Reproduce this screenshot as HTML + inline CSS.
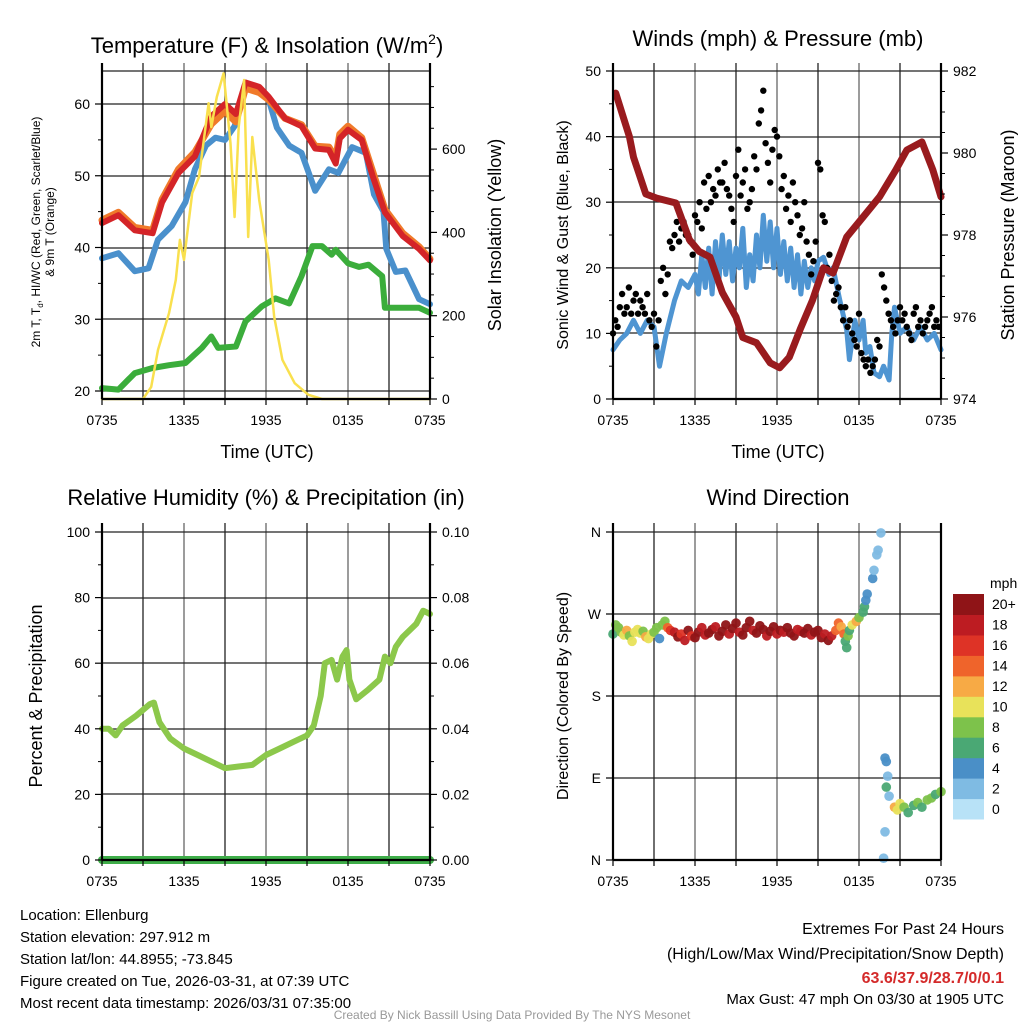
<!DOCTYPE html>
<html><head><meta charset="utf-8">
<style>
html,body{margin:0;padding:0;background:#fff;}
svg{display:block;font-family:"Liberation Sans",Arial,sans-serif;}
</style></head>
<body>
<svg id="chart" width="1024" height="1024" viewBox="0 0 1024 1024" xmlns="http://www.w3.org/2000/svg">
<rect width="1024" height="1024" fill="#fff"/>
<g id="grids"></g>
<g id="marks"></g>
<g id="axes"></g>
<text x="267" y="53" font-size="22" text-anchor="middle">Temperature (F) &amp; Insolation (W/m<tspan font-size="14" dy="-9">2</tspan><tspan dy="9">)</tspan></text>
<text x="778" y="46" font-size="22" text-anchor="middle">Winds (mph) &amp; Pressure (mb)</text>
<text x="266" y="505" font-size="22" text-anchor="middle">Relative Humidity (%) &amp; Precipitation (in)</text>
<text x="778" y="505" font-size="22" text-anchor="middle">Wind Direction</text>
<text x="267" y="458" font-size="18" text-anchor="middle">Time (UTC)</text>
<text x="778" y="458" font-size="18" text-anchor="middle">Time (UTC)</text>
<g font-size="12" text-anchor="middle">
<text transform="translate(40,232) rotate(-90)">2m T, T<tspan font-size="8" dy="3">d</tspan><tspan dy="-3">, HI/WC (Red, Green, Scarlet/Blue)</tspan></text>
<text transform="translate(54,232) rotate(-90)">&amp; 9m T (Orange)</text>
</g>
<text transform="translate(501,235) rotate(-90)" font-size="18" text-anchor="middle">Solar Insolation (Yellow)</text>
<text transform="translate(568,235) rotate(-90)" font-size="16" text-anchor="middle">Sonic Wind &amp; Gust (Blue, Black)</text>
<text transform="translate(1014,235) rotate(-90)" font-size="18" text-anchor="middle">Station Pressure (Maroon)</text>
<text transform="translate(42,696) rotate(-90)" font-size="18" text-anchor="middle">Percent &amp; Precipitation</text>
<text transform="translate(568,696) rotate(-90)" font-size="16" text-anchor="middle">Direction (Colored By Speed)</text>
<g id="colorbar"></g>
<text x="990" y="588" font-size="14">mph</text>
<g font-size="15">
<text x="20" y="920">Location: Ellenburg</text>
<text x="20" y="942">Station elevation: 297.912 m</text>
<text x="20" y="964">Station lat/lon: 44.8955; -73.845</text>
<text x="20" y="986">Figure created on Tue, 2026-03-31, at 07:39 UTC</text>
<text x="20" y="1008">Most recent data timestamp: 2026/03/31 07:35:00</text>
</g>
<g font-size="16" text-anchor="end">
<text x="1004" y="934">Extremes For Past 24 Hours</text>
<text x="1004" y="959">(High/Low/Max Wind/Precipitation/Snow Depth)</text>
<text x="1004" y="983" fill="#d42a2a" font-weight="bold">63.6/37.9/28.7/0/0.1</text>
<text x="1004" y="1004" font-size="15">Max Gust: 47 mph On 03/30 at 1905 UTC</text>
</g>
<text x="512" y="1019" font-size="12" fill="#999" text-anchor="middle">Created By Nick Bassill Using Data Provided By The NYS Mesonet</text>
</svg>
<script>
// ---------- DATA ----------
const timeLabels = ["0735","1335","1935","0135","0735"];
const tTemp = [0,1.2,2.4,3.7,4.4,5.6,6.8,8.0,9.0,9.8,10.5,11.5,12.2,13.4,14.6,15.6,16.6,17.1,17.4,18.0,19.0,19.8,20.7,22.0,23.2,24.0];
const tempRed = [43.4,44.5,42.4,42.0,46.3,50.4,52.7,58.3,60.0,58.6,63.0,62.4,61.0,58.0,56.9,53.8,53.6,51.7,55.2,56.4,55.0,50.0,44.9,41.6,39.8,38.2];
const temp9m = [43.8,44.9,42.8,42.4,46.7,50.9,53.3,57.2,59.0,57.5,62.2,61.6,60.6,58.0,57.1,54.1,54.0,52.4,55.8,56.9,55.3,50.6,45.3,42.0,40.1,38.4];
const tDew = [0,1.2,2.4,3.4,4.1,5.1,6.1,6.8,7.6,8.3,9.0,9.7,10.5,11.5,12.2,12.8,13.7,14.6,15.6,16.6,17.3,18.3,19.3,19.9,20.6,20.8,21.5,22.2,23.2,24.0];
const dewBlue = [38.5,39.2,36.7,37.1,41.1,43.0,46.3,50.9,54.2,55.3,55.0,56.9,62.2,61.6,60.6,56.7,54.2,53.2,47.9,50.9,50.4,54.0,53.2,47.4,45.0,39.8,36.6,36.8,32.8,32.1];
const tGreen = [0,1.2,2.4,3.7,4.9,6.1,7.3,8.0,8.5,9.8,10.5,11.7,12.7,13.7,14.6,15.4,16.1,16.8,17.1,18.0,18.8,19.5,20.5,20.7,22.0,23.2,24.0];
const dewGreen = [20.4,20.2,22.5,23.2,23.6,23.9,26.0,27.6,26.0,26.2,29.7,31.8,32.9,32.2,36.0,40.2,40.2,39.0,39.7,37.8,37.3,37.6,36.0,31.6,31.6,31.6,30.9];
const tSolar = [0,3.0,3.6,4.1,4.9,5.4,5.7,6.0,6.6,7.1,7.8,8.0,8.4,8.9,9.4,9.7,10.0,10.4,10.7,11.0,11.5,12.2,12.6,13.2,14.1,15.1,16.1,24.0];
const solar = [0,0,29,118,206,286,382,334,494,533,710,653,725,782,614,437,653,766,389,629,478,334,197,94,38,10,0,0];
const tWind = [0,0.5,1,1.5,2,2.5,3,3.4,3.9,4.5,5,5.5,
 6,6.25,6.5,6.75,7,7.25,7.5,7.75,8,8.25,8.5,8.75,9,9.25,9.5,9.75,10,10.25,10.5,10.75,11,11.25,11.5,11.75,12,12.25,12.5,12.75,13,13.25,13.5,13.75,14,14.25,14.5,14.75,15,
 15.4,15.8,16.1,16.6,17.1,17.3,17.7,18,18.3,18.5,18.8,19.1,19.5,19.8,20.2,20.4,20.6,21,21.5,22,22.5,23,23.5,24];
const windSpd = [7.5,9,10,12,10,12,11,5,10,15,18,17,
 19,16,22,17,23,16,24,18,25,19,24,18,23,20,26,17,22,18,25,20,28,21,27,20,26,19,24,18,23,17,22,16,21,17,20,18,21,
 21.6,19,20,15,10.5,6,12,9,12,7,8,4,3.4,5,2.9,10,14,10,11,9,11,9,10,7.5];
const tPres = [0.2,1.2,1.5,2.4,3.2,4.6,5.6,6.3,7.1,8.0,9.0,9.5,10.5,11.5,12.2,12.9,13.7,14.6,15.4,16.1,17.1,18.3,19.5,20.7,21.5,22.6,23.4,24.0];
const pressure = [981.46,980.4,979.9,979.0,978.9,978.78,977.88,977.6,977.46,976.6,976.0,975.5,975.37,974.88,974.76,975.02,975.7,976.41,977.2,977.07,977.95,978.44,978.93,979.59,980.07,980.27,979.59,978.93];
const gustStep = 1/6;
const gusts = [10,12,11,14,16,13, 14,17,13,15,16,13, 15,14,13,16,12,11, 13,8,12,18,20,16,
 19,24,23,25,27,24, 26,27,25,25,24,22, 28,27,30,26,33,29, 34,30,32,31,35,33,
 33,36,32,31,29,27, 34,38,31,33,35,29, 30,32,37,35,42,44, 47,39,36,33,38,41,
 40,37,32,34,29,31, 27,33,30,28,25,26, 30,24,22,19,21,24, 36,35,28,27,20,22,
 18,15,16,17,14,12, 14,11,12,10,9,8, 13,7,6,5,6,4, 5,6,9,8,19,17,
 15,13,12,11,10,12, 14,12,13,11,10,9, 13,14,11,12,10,11, 12,13,14,11,12,11];
const tRH = [0,0.5,1,1.5,2.5,3.5,3.8,4.2,5,6,7,8,9,10,11,12,13,14,15,15.5,16,16.3,16.8,17.2,17.6,17.9,18.1,18.6,19.5,20.3,20.7,21.1,21.5,22,23,23.5,24];
const rh = [40,40,38,41,44,47.5,48,42,37,34,32,30,28,28.5,29,32,34,36,38,41,50,60,61,55,62,64,55,49,52,55,62,60,65,68,72,76,75];
const tPrecip = [0,24];
const precip = [0,0];
const tDir = [0,0.2,0.4,0.6,0.8,1.0,1.2,1.4,1.6,1.8,2.0,2.2,2.4,2.6,2.8,3.0,3.2,3.4,3.6,3.8,4.0,4.2,
 4.5,4.75,5,5.25,5.5,5.75,6,6.25,6.5,6.75,7,7.25,7.5,7.75,8,8.25,8.5,8.75,9,9.25,9.5,9.75,10,10.25,10.5,10.75,11,11.25,11.5,11.75,12,12.25,12.5,12.75,13,13.25,13.5,13.75,14,14.25,14.5,14.75,15,15.25,15.5,15.75,16.0,
 16.3,16.5,16.7,16.9,17.0,17.1,17.2,17.3,17.5,17.8,18.0,18.3,18.4,18.5,18.6,19.0,19.1,19.3,19.4,19.6,
 19.9,20.0,20.1,20.0,20.2,19.9,19.8,20.6,20.8,21.0,21.3,21.6,22.0,22.3,22.6,23.0,23.3,23.6,24.0];
const dirDeg = [248,258,255,250,247,252,246,240,250,253,249,251,245,243,248,250,255,243,258,262,255,252,
 250,245,248,241,252,246,244,250,255,247,249,253,256,246,251,258,248,254,260,250,247,255,262,252,249,257,253,246,251,256,248,252,250,255,249,246,253,251,249,254,247,250,252,244,248,241,246,
 252,260,256,248,240,233,246,252,258,262,266,272,278,285,292,309,318,335,340,359,
 112,108,92,80,70,31,2,58,55,62,58,52,60,63,58,66,68,72,75];
const dirSpd = [7,8,9,8,10,12,9,10,11,10,10,8,12,11,10,8,9,4,9,9,14,16,
 18,20,17,19,21,16,20,22,19,18,21,20,19,22,21,20,18,21,22,19,20,21,22,18,20,21,22,19,20,21,18,20,19,22,21,20,19,18,20,21,19,22,20,21,18,20,19,
 15,14,12,14,6,6,8,7,10,12,8,6,6,4,4,4,2,2,2,2,
 4,4,2,6,2,2,2,12,10,10,8,6,7,8,7,9,8,7,8];
const speedColors = ["#b8e2f7","#7fbbe3","#4a8fc7","#4aa874","#7dc24b","#e8e25a","#f7aa45","#ef642b","#de3326","#bd1c22","#8f1417"];
const speedLabels = ["0","2","4","6","8","10","12","14","16","18","20+"];

// ---------- SCALES ----------
const L = {x0:102,x1:430}, R = {x0:613,x1:941};
const xL = h => L.x0 + h/24*(L.x1-L.x0);
const xR = h => R.x0 + h/24*(R.x1-R.x0);
const yTemp = v => 391 - (v-20)*7.175;
const ySol = s => 399 - s*0.4165;
const ySpd = v => 399 - v*6.56;
const yPres = p => 399 - (p-974)*41;
const yRH = v => 860 - v*3.28;
const yPcp = v => 860 - v*3280;
const yDir = d => 860 - d*328/360;

const NS = "http://www.w3.org/2000/svg";
function mk(tag, parent, attrs){ const e=document.createElementNS(NS,tag); for(const k in attrs) e.setAttribute(k,attrs[k]); parent.appendChild(e); return e; }
const G = document.getElementById('grids'), M = document.getElementById('marks'), A = document.getElementById('axes');

function drawLine(ts, vs, fx, fy, color, w, name){
  const d = ts.map((t,i)=>(i?'L':'M')+fx(t).toFixed(1)+','+fy(vs[i]).toFixed(1)).join('');
  const p = mk('path', M, {d:d, fill:'none', stroke:color, 'stroke-width':w, 'stroke-linejoin':'round','stroke-linecap':'round'});
  
  
}

function panel(px, top, bottom, hLines, name){
  const g = mk('g', G, {});
  
  
  for(let k=1;k<8;k++){ const x = px.x0 + k*(px.x1-px.x0)/8; mk('line', g, {x1:x,x2:x,y1:top,y2:bottom,stroke:k%2?'#222':'#666','stroke-width':1.3}); }
  hLines.forEach(y=>mk('line', g, {x1:px.x0,x2:px.x1,y1:y,y2:y,stroke:'#222','stroke-width':1.3}));
  const a = mk('g', A, {});
  
  
  mk('line', a, {x1:px.x0,x2:px.x0,y1:top,y2:bottom,stroke:'#000','stroke-width':2.2});
  mk('line', a, {x1:px.x1,x2:px.x1,y1:top,y2:bottom,stroke:'#000','stroke-width':2.2});
  mk('line', a, {x1:px.x0,x2:px.x1,y1:bottom,y2:bottom,stroke:'#000','stroke-width':2.2});
  for(let k=0;k<=8;k++){ const x = px.x0 + k*(px.x1-px.x0)/8; mk('line', a, {x1:x,x2:x,y1:bottom,y2:bottom+6,stroke:'#000','stroke-width':1.2}); }
  timeLabels.forEach((lb,i)=>{ const t = mk('text', a, {x:px.x0+i*(px.x1-px.x0)/4, y:bottom+26, 'font-size':14,'text-anchor':'middle'}); t.textContent = lb; });
}
function yTicks(x, side, vals, fy, labels, minor, name){
  const a = mk('g', A, {});
  
  
  vals.forEach((v,i)=>{ const y=fy(v); mk('line',a,{x1:x,x2:x+side*7,y1:y,y2:y,stroke:'#000','stroke-width':1.2});
    const t = mk('text', a, {x:x+side*12, y:y+5, 'font-size':14, 'text-anchor': side<0?'end':'start'}); t.textContent = labels[i]; });
  minor.forEach(v=>{ const y=fy(v); mk('line',a,{x1:x,x2:x+side*4,y1:y,y2:y,stroke:'#000','stroke-width':1}); });
}

// Panel 1
panel(L, 63, 399, [71,104,176,248,319,391], 'temperature');
yTicks(L.x0,-1,[20,30,40,50,60],yTemp,["20","30","40","50","60"],[25,35,45,55],'temperature-left-ticks');
yTicks(L.x1,1,[0,200,400,600],ySol,["0","200","400","600"],[50,100,150,250,300,350,450,500,550,650,700,750],'insolation-right-ticks');
drawLine(tGreen, dewGreen, xL, yTemp, '#3bad3b', 6, 'dewpoint-line');
drawLine(tDew, dewBlue, xL, yTemp, '#4a90cc', 6, 'heat-index-wind-chill-line');
drawLine(tTemp, temp9m, xL, yTemp, '#f07a2a', 7, 'temperature-9m-line');
drawLine(tTemp, tempRed, xL, yTemp, '#d42428', 6, 'temperature-2m-line');
drawLine(tSolar, solar, xL, ySol, '#f9e04e', 2.5, 'solar-insolation-line');

// Panel 2
panel(R, 63, 399, [71,137,202,268,333], 'winds');
yTicks(R.x0,-1,[0,10,20,30,40,50],ySpd,["0","10","20","30","40","50"],[5,15,25,35,45],'wind-left-ticks');
yTicks(R.x1,1,[974,976,978,980,982],yPres,["974","976","978","980","982"],[974.5,975,975.5,976.5,977,977.5,978.5,979,979.5,980.5,981,981.5],'pressure-right-ticks');
drawLine(tWind, windSpd, xR, ySpd, '#4f95d2', 5, 'wind-speed-line');
const gg = mk('g', M, {});


gusts.forEach((v,i)=>{ const c = mk('circle', gg, {cx:xR(i*gustStep).toFixed(1), cy:ySpd(v).toFixed(1), r:3.2, fill:'#000'});
  
   });
drawLine(tPres, pressure, xR, yPres, '#991b1e', 7, 'pressure-line');

// Panel 3
panel(L, 523, 860, [532,598,663,729,794], 'humidity');
yTicks(L.x0,-1,[0,20,40,60,80,100],yRH,["0","20","40","60","80","100"],[10,30,50,70,90],'humidity-left-ticks');
yTicks(L.x1,1,[0,0.02,0.04,0.06,0.08,0.1],yPcp,["0.00","0.02","0.04","0.06","0.08","0.10"],[0.01,0.03,0.05,0.07,0.09],'precip-right-ticks');
drawLine(tRH, rh, xL, yRH, '#8cc84b', 6, 'relative-humidity-line');
drawLine(tPrecip, precip, xL, yPcp, '#3fae49', 8, 'precipitation-line');

// Panel 4
panel(R, 523, 860, [532,614,696,778], 'direction');
yTicks(R.x0,-1,[0,90,180,270,360],yDir,["N","E","S","W","N"],[],'direction-left-ticks');
const dg = mk('g', M, {});


tDir.forEach((t,i)=>{ const ci = Math.min(10, Math.floor(dirSpd[i]/2));
  const c = mk('circle', dg, {cx:xR(t).toFixed(1), cy:yDir(dirDeg[i]).toFixed(1), r:4.8, fill:speedColors[ci], 'fill-opacity':0.95});
  
   });

// colorbar
const cb = document.getElementById('colorbar');
const bh = 225/11;
speedColors.forEach((c,i)=>{ const y = 594 + (10-i)*bh;
  const r = mk('rect', cb, {x:953, y:y.toFixed(1), width:31, height:(bh+0.5).toFixed(1), fill:c});
  
  
  const t = mk('text', cb, {x:992, y:(y+bh/2+5).toFixed(1), 'font-size':14}); t.textContent = speedLabels[i];
  
   });
</script>
</body></html>
